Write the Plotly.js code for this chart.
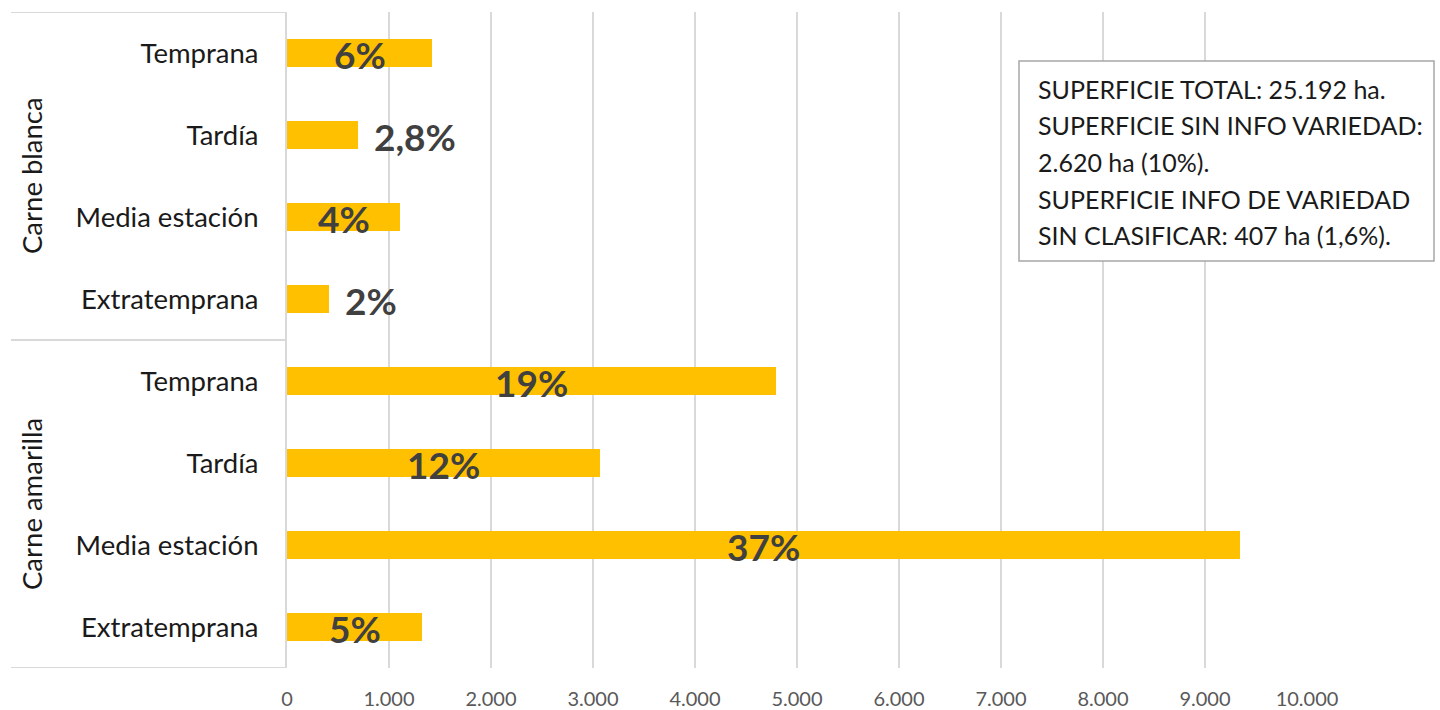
<!DOCTYPE html>
<html><head><meta charset="utf-8">
<script src="https://cdn.plot.ly/plotly-3.0.1.min.js"></script>
<style>html,body{margin:0;padding:0;background:#fff}#chart{width:1440px;height:710px}</style>
</head><body><div id="chart"></div>
<script>
const groups = ['Carne blanca', 'Carne amarilla'];
const categories = ['Temprana', 'Tardía', 'Media estación', 'Extratemprana', 'Temprana', 'Tardía', 'Media estación', 'Extratemprana'];
const categoryGroup = [0, 0, 0, 0, 1, 1, 1, 1];
const hectares = [1422, 696, 1108, 412, 4794, 3069, 9343, 1324];
const percentLabels = ['6%', '2,8%', '4%', '2%', '19%', '12%', '37%', '5%'];
const labelPlacement = ['center', 'outside', 'center', 'outside', 'center', 'center', 'center', 'center'];
const xTickValues = [0, 1000, 2000, 3000, 4000, 5000, 6000, 7000, 8000, 9000, 10000];
const noteLines = [
  'SUPERFICIE TOTAL: 25.192 ha.',
  'SUPERFICIE SIN INFO VARIEDAD:',
  '2.620 ha (10%).',
  'SUPERFICIE INFO DE VARIEDAD',
  'SIN CLASIFICAR: 407 ha (1,6%).'
];

const FONT = 'Lato, "Open Sans", sans-serif';
const W = 1440, H = 710;
const M = {l: 287, r: 133, t: 12, b: 42};
const PW = W - M.l - M.r, PH = H - M.t - M.b;
const px2x = p => (p - M.l) / PW;
const py2y = p => (H - M.b - p) / PH;

const idx = categories.map((_, i) => i);

const trace = {
  type: 'bar',
  orientation: 'h',
  x: hectares,
  y: idx,
  width: 0.35,
  marker: {color: '#FFC000'},
  hoverinfo: 'x',
  showlegend: false
};

const annotations = [];
// data labels
hectares.forEach((v, i) => {
  const outside = labelPlacement[i] === 'outside';
  annotations.push({
    x: outside ? v : v / 2,
    y: i,
    xref: 'x', yref: 'y',
    text: percentLabels[i],
    showarrow: false,
    xanchor: outside ? 'left' : 'center',
    yanchor: 'middle',
    xshift: outside ? 14 : 0,
    yshift: -1,
    font: {family: FONT, size: 37, color: '#404040', weight: 'bold'}
  });
});
// group labels
groups.forEach((g, gi) => {
  const members = idx.filter(i => categoryGroup[i] === gi);
  const mid = (Math.min(...members) + Math.max(...members)) / 2;
  annotations.push({
    x: px2x(31), y: mid, xref: 'paper', yref: 'y',
    text: g, textangle: -90, showarrow: false,
    xanchor: 'center', yanchor: 'middle',
    font: {family: FONT, size: 27.5, color: '#1a1a1a'}
  });
});
// note box text
noteLines.forEach((t, i) => {
  annotations.push({
    x: px2x(1036), y: py2y(89 + i * 36.5), xref: 'paper', yref: 'paper',
    text: t, showarrow: false, xanchor: 'left', yanchor: 'middle', align: 'left',
    font: {family: FONT, size: 25, color: '#1a1a1a'}
  });
});

const shapes = [];
// group divider lines on the category axis area
const boundaries = [-0.5];
groups.forEach((g, gi) => {
  const members = idx.filter(i => categoryGroup[i] === gi);
  boundaries.push(Math.max(...members) + 0.5);
});
boundaries.forEach(b => {
  shapes.push({
    type: 'line', xref: 'paper', yref: 'y',
    x0: px2x(11), x1: 0, y0: b, y1: b,
    line: {color: '#d9d9d9', width: 2}
  });
});
// note box
shapes.push({
  type: 'rect', xref: 'paper', yref: 'paper',
  x0: px2x(1019), x1: px2x(1434), y0: py2y(261), y1: py2y(61),
  fillcolor: '#ffffff', line: {color: '#a6a6a6', width: 1.5}, layer: 'above'
});

const layout = {
  width: W, height: H,
  margin: M,
  paper_bgcolor: '#ffffff', plot_bgcolor: '#ffffff',
  separators: ',.',
  font: {family: FONT},
  xaxis: {
    range: [0, 10000],
    tickvals: xTickValues,
    tickformat: ',d',
    showgrid: true, gridcolor: '#d9d9d9', gridwidth: 2,
    zeroline: false, showline: false, ticks: '',
    ticklabelstandoff: 17,
    tickfont: {family: FONT, size: 20, color: '#595959'},
    fixedrange: true
  },
  yaxis: {
    range: [categories.length - 0.5, -0.5],
    tickvals: idx, ticktext: categories,
    showgrid: false, zeroline: false,
    showline: true, linecolor: '#d9d9d9', linewidth: 2,
    ticks: '', ticklabelstandoff: 21,
    tickfont: {family: FONT, size: 27.5, color: '#1a1a1a'},
    fixedrange: true
  },
  annotations: annotations,
  shapes: shapes,
  bargap: 0
};

Plotly.newPlot('chart', [trace], layout, {displayModeBar: false, staticPlot: true});
</script>
</body></html>
